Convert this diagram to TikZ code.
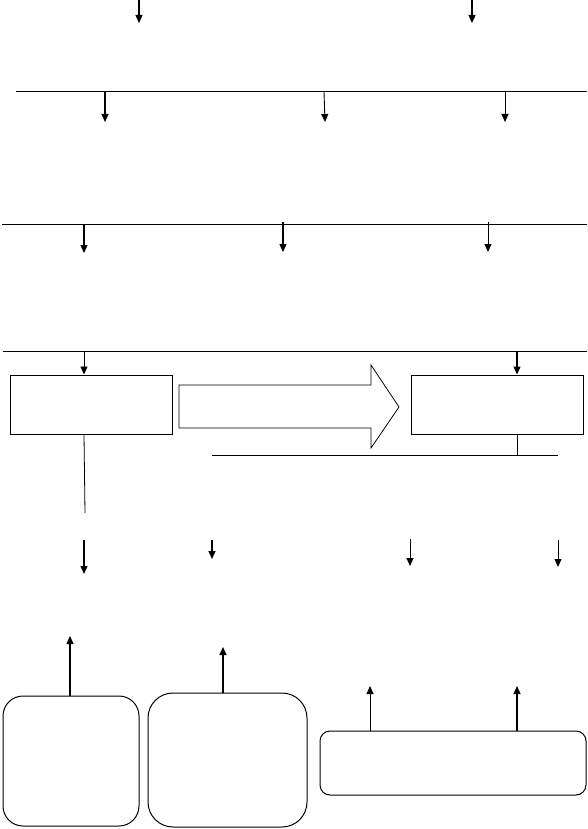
\documentclass[tikz,border=0pt]{standalone}
\usetikzlibrary{arrows.meta,shapes.arrows}
\begin{document}
\begin{tikzpicture}[x=1pt,y=-1pt,
  ln/.style={line width=1pt},
  arr/.style={line width=1.3pt,-{Triangle[length=8pt,width=7pt]}},
  thin arr/.style={line width=0.9pt,-{Triangle[length=8pt,width=7pt]}},
  sqbox/.style={draw,line width=1pt},
  rbox/.style={draw,line width=1pt,rounded corners=#1},
]
\useasboundingbox (0,0) rectangle (587,829);
% top arrows
\coordinate (t1a) at (139,0); \coordinate (t1b) at (139,23);
\coordinate (t2a) at (472,0); \coordinate (t2b) at (472,23);
\draw[arr] (t1a) -- (t1b);
\draw[arr] (t2a) -- (t2b);
% line 1
\coordinate (l1a) at (16,92); \coordinate (l1b) at (587,92);
\draw[ln] (l1a) -- (l1b);
\coordinate (a11) at (105,92); \coordinate (b11) at (105,122);
\coordinate (a12) at (324,92); \coordinate (b12) at (325,122);
\coordinate (a13) at (505,92); \coordinate (b13) at (505,122);
\draw[arr] (a11) -- (b11);
\draw[thin arr] (a12) -- (b12);
\draw[thin arr] (a13) -- (b13);
% line 2
\coordinate (l2a) at (2,224); \coordinate (l2b) at (587,224);
\draw[ln] (l2a) -- (l2b);
\coordinate (a21) at (84,224); \coordinate (b21) at (84,253);
\coordinate (a22) at (283,222); \coordinate (b22) at (283,252);
\coordinate (a23) at (488,222); \coordinate (b23) at (488,252);
\draw[arr] (a21) -- (b21);
\draw[arr] (a22) -- (b22);
\draw[thin arr] (a23) -- (b23);
% line 3
\coordinate (l3a) at (3,351); \coordinate (l3b) at (587,351);
\draw[ln] (l3a) -- (l3b);
% boxes
\node[sqbox,minimum width=162pt,minimum height=59pt,inner sep=0pt] (lb) at (91,404.5) {};
\node[sqbox,minimum width=172pt,minimum height=59pt,inner sep=0pt] (rb) at (497,404.5) {};
\coordinate (a31) at (84,351);
\coordinate (a32) at (517,351);
\draw[thin arr] (a31) -- (a31 |- lb.north);
\draw[arr] (a32) -- (a32 |- rb.north);
% big arrow
\draw[line width=0.8pt] (179,385) -- (371,385) -- (371,365) -- (399,407) -- (371,448) -- (371,428) -- (179,428) -- cycle;
% line under right box
\coordinate (l4a) at (212,455); \coordinate (l4b) at (558,455);
\draw[ln] (l4a) -- (l4b);
\draw[ln] (rb.south -| a32) -- (517,455);
% line from left box
\coordinate (lbe) at (85,513);
\draw[line width=0.8pt] (lb.south -| a31) -- (lbe);
% row of arrows
\draw[arr] (84,540) -- (84,574);
\draw[arr] (212,540) -- (212,559);
\draw[thin arr] (410,539) -- (410,566);
\draw[thin arr] (558,540) -- (558,567);
% bottom boxes
\node[rbox=20pt,minimum width=136pt,minimum height=130pt,inner sep=0pt] (ba) at (71,761) {};
\node[rbox=25pt,minimum width=159pt,minimum height=134pt,inner sep=0pt] (bb) at (227.5,760) {};
\node[rbox=10pt,minimum width=266pt,minimum height=64pt,inner sep=0pt] (bc) at (453,763) {};
\draw[arr] (ba.north -| 70,0) -- (70,636);
\draw[arr] (bb.north -| 223,0) -- (223,647);
\draw[thin arr] (bc.north -| 370,0) -- (370,686);
\draw[arr] (bc.north -| 517,0) -- (517,686);
\end{tikzpicture}
\end{document}
